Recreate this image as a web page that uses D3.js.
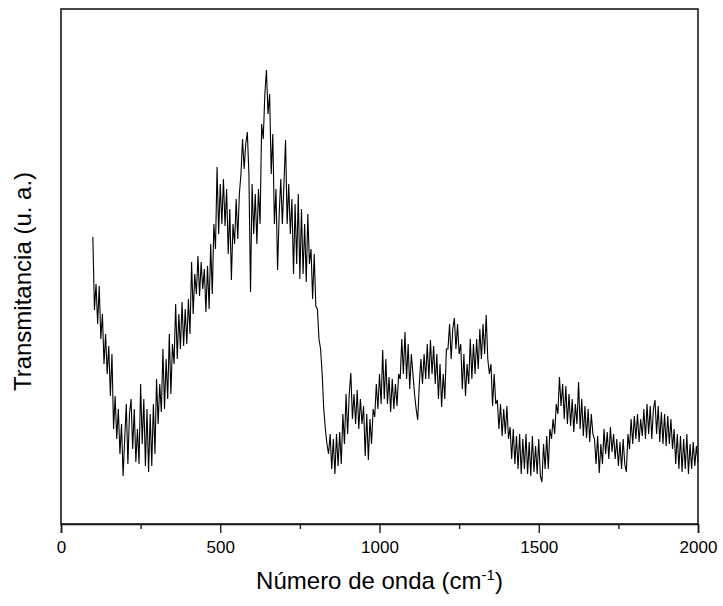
<!DOCTYPE html>
<html>
<head>
<meta charset="utf-8">
<script src="https://cdn.jsdelivr.net/npm/d3@7"></script>
<style>
  body { margin: 0; background: #fff; }
  text { font-family: "Liberation Sans", Arial, sans-serif; fill: #000; }
</style>
</head>
<body>
<svg id="chart" width="723" height="606"></svg>
<script>
// wavenumber grid (cm^-1): 100 to 2000 every 5
const xStart = 100, xStep = 5, xEnd = 2000;
const wavenumbers = d3.range(xStart, xEnd + 1, xStep);
// transmittance (arbitrary units)
const transmittance = [
  287,214,240,200,238,185,210,160,190,150,
  178,128,170,95,128,85,115,70,100,48,
  85,120,60,110,125,75,115,62,95,60,
  140,80,125,58,115,52,110,58,120,70,
  145,100,140,112,175,115,165,125,190,130,
  180,160,220,165,210,175,222,178,215,180,
  225,190,262,210,250,230,268,228,262,235,
  255,212,258,215,280,230,300,275,357,290,
  340,300,345,298,335,270,315,244,300,280,
  325,285,330,350,385,355,380,392,350,232,
  340,290,330,280,335,300,400,385,430,454,
  410,430,350,390,300,335,254,310,345,300,
  340,384,300,340,290,325,250,320,260,330,
  245,315,250,300,242,310,260,275,225,270,
  218,215,185,175,150,115,95,80,70,90,
  55,85,50,90,58,92,60,110,80,130,
  90,130,151,105,130,100,134,95,125,100,
  118,68,110,64,105,80,115,107,140,115,
  150,120,174,125,165,120,147,112,145,115,
  140,118,150,145,185,150,192,145,180,135,
  170,150,130,115,104,140,165,140,170,145,
  180,145,184,150,178,140,170,125,160,117,
  150,125,175,175,200,165,195,206,175,200,
  170,180,135,170,128,160,140,185,145,180,
  150,185,155,195,165,200,170,209,165,150,
  160,118,150,120,124,95,120,88,115,90,
  118,85,97,65,95,60,88,55,90,50,
  85,55,90,50,82,48,88,52,78,50,
  85,48,42,80,55,88,55,95,85,105,
  90,120,110,147,118,140,105,138,100,130,
  98,125,92,120,100,142,95,125,88,118,
  86,115,82,110,90,85,60,88,51,80,
  60,95,70,92,65,97,72,90,65,85,
  58,82,55,85,60,52,90,75,105,80,
  108,85,110,82,105,88,115,85,120,90,
  118,85,115,124,90,118,82,112,80,110,
  78,108,80,105,75,95,60,90,55,88,
  52,85,55,90,50,80,55,82,58,78,
  62
];
const xTicks = [0, 500, 1000, 1500, 2000];
const xMinorTicks = [250, 750, 1250, 1750];
const xLabel = "Número de onda (cm";
const yLabel = "Transmitancia (u. a.)";

const data = wavenumbers.map((w, i) => ({ x: w, y: transmittance[i] }));

const svg = d3.select("#chart");
const mLeft = 61, mRight = 698, mTop = 9, mBottom = 524;

const x = d3.scaleLinear().domain([0, 2000]).range([mLeft, mRight]);
const y = d3.scaleLinear().domain([0, 515]).range([mBottom, mTop]);

// data line
svg.append("path")
  .datum(data)
  .attr("fill", "none")
  .attr("stroke", "#000")
  .attr("stroke-width", 1.1)
  .attr("d", d3.line().x(d => x(d.x)).y(d => y(d.y)));

// frame
svg.append("rect")
  .attr("x", mLeft).attr("y", mTop)
  .attr("width", mRight - mLeft).attr("height", mBottom - mTop)
  .attr("fill", "none").attr("stroke", "#1a1a1a").attr("stroke-width", 1.6);

// x axis
const xAxis = svg.append("g").attr("transform", `translate(0,${mBottom})`)
  .call(d3.axisBottom(x).tickValues(xTicks).tickSize(9).tickPadding(8).tickFormat(d3.format("d")));
xAxis.select(".domain").attr("stroke", "#1a1a1a").attr("stroke-width", 1.6);
xAxis.selectAll(".tick line").attr("stroke", "#1a1a1a").attr("stroke-width", 1.4);
xAxis.selectAll(".tick text").style("font-size", "17px").style("font-family", "Liberation Sans, Arial, sans-serif").attr("fill", "#000");

const xMinor = svg.append("g").attr("transform", `translate(0,${mBottom})`)
  .call(d3.axisBottom(x).tickValues(xMinorTicks).tickSize(5).tickFormat(""));
xMinor.select(".domain").remove();
xMinor.selectAll(".tick line").attr("stroke", "#1a1a1a").attr("stroke-width", 1.4);

// x label with superscript
const xl = svg.append("text")
  .attr("x", (mLeft + mRight) / 2 + 0).attr("y", 589)
  .attr("text-anchor", "middle")
  .style("font-size", "24px");
xl.append("tspan").text(xLabel);
xl.append("tspan").attr("dy", -9).style("font-size", "15px").text("-1");
xl.append("tspan").attr("dy", 9).text(")");

// y label
svg.append("text")
  .attr("transform", `translate(31,${(mTop + mBottom) / 2 + 15}) rotate(-90)`)
  .attr("text-anchor", "middle")
  .style("font-size", "24px")
  .text(yLabel);
</script>
</body>
</html>
